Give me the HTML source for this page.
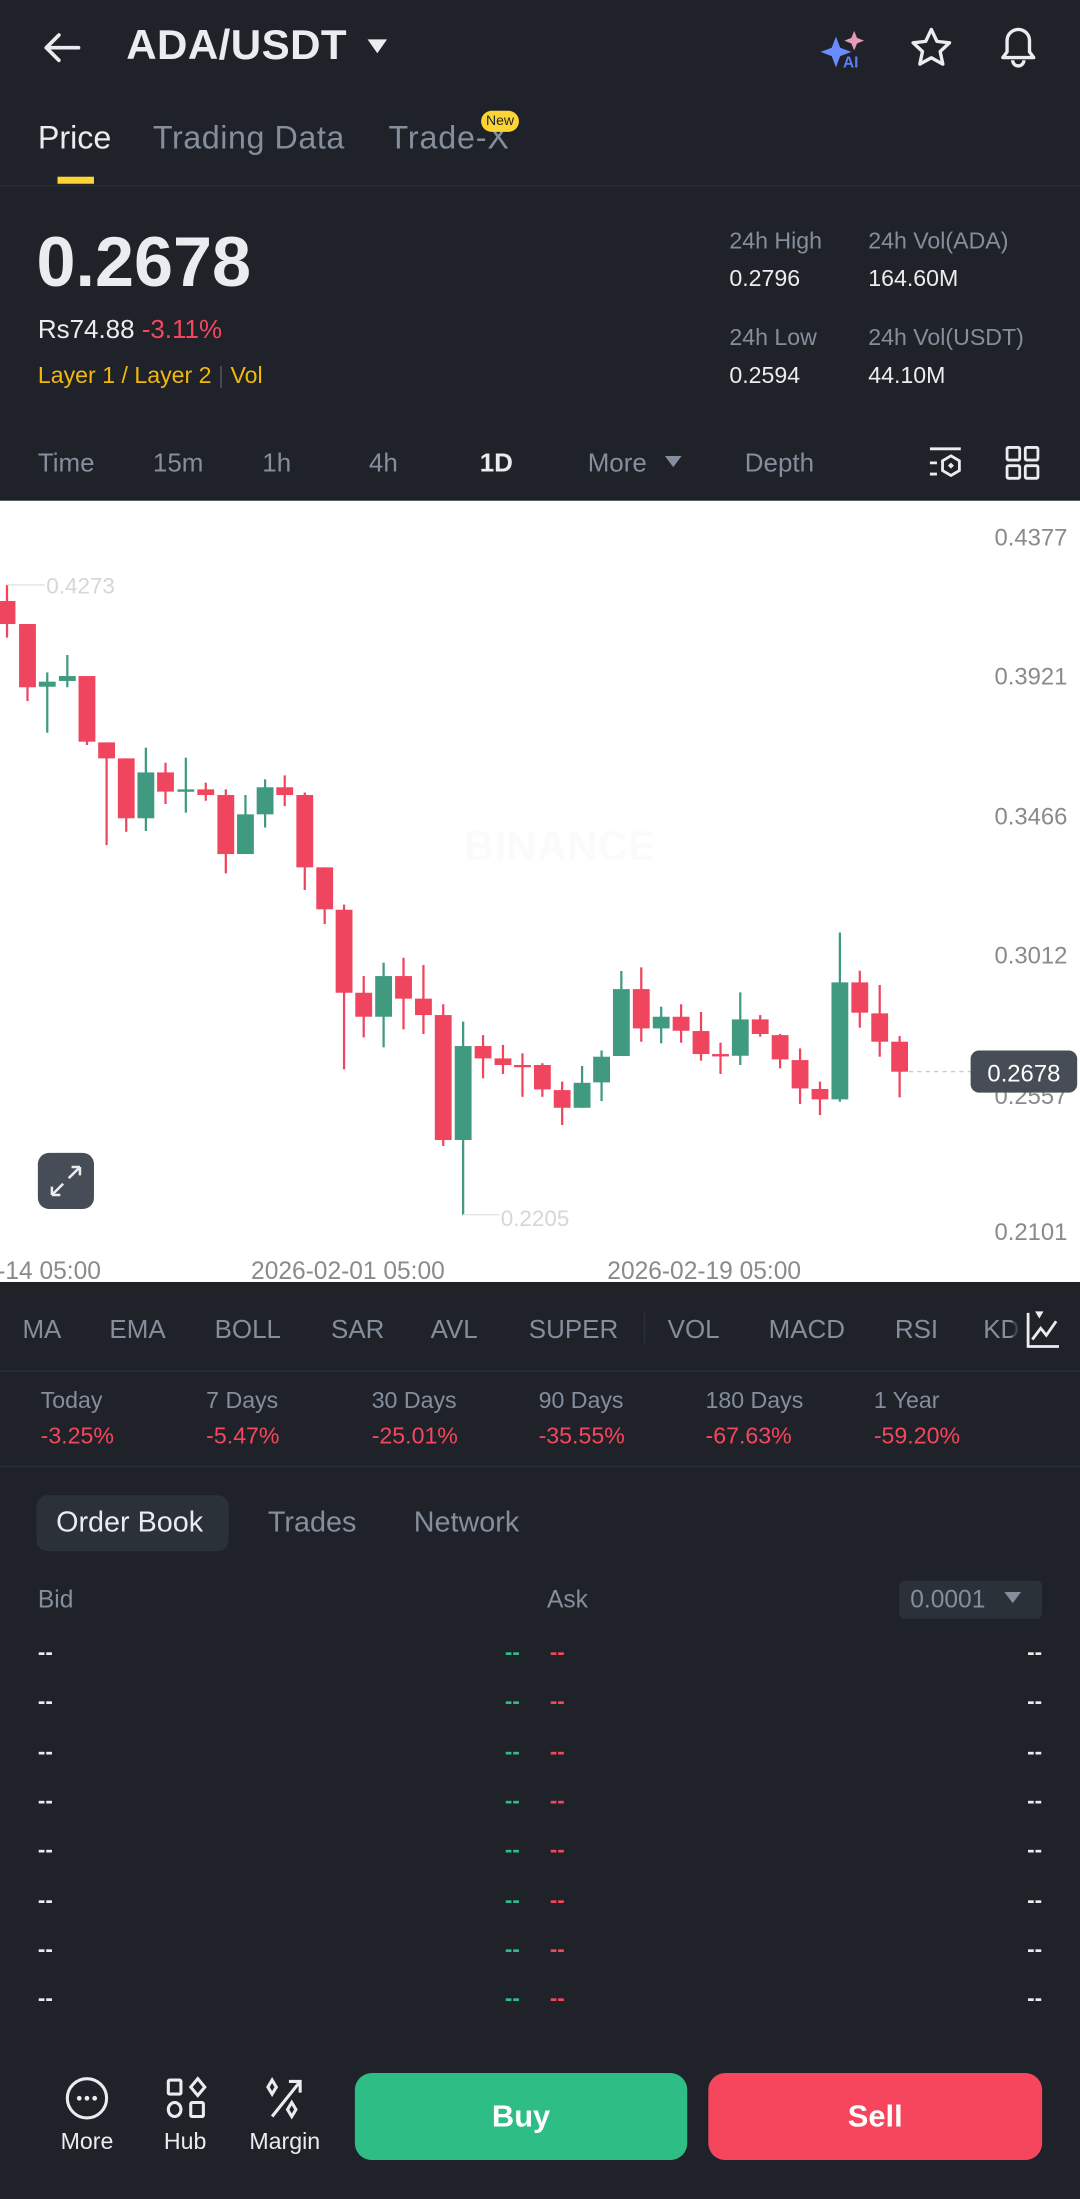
<!DOCTYPE html>
<html><head><meta charset="utf-8">
<style>
*{margin:0;padding:0;box-sizing:border-box}
html,body{width:1080px;height:2199px;overflow:hidden;background:#1f2329}
#w{position:absolute;left:0;top:0;width:770px;height:1568px;transform:scale(1.402597);transform-origin:0 0;background:#1f2329;font-family:"Liberation Sans",sans-serif;color:#eaecef}
.t{position:absolute;white-space:nowrap;line-height:1}
.g{color:#848e9c}
.r{color:#f6465d}
.y{color:#f0b90b}
.hl{position:absolute;left:0;width:770px;height:1px;background:#2b3139}
</style></head><body><div id="w">

<!-- header -->
<svg style="position:absolute;left:28px;top:20px" width="32" height="28" viewBox="0 0 32 28"><path d="M28 14H5M14 5L5 14l9 9" stroke="#eaecef" stroke-width="2.6" fill="none" stroke-linecap="round" stroke-linejoin="round"/></svg>
<div class="t" style="left:90px;top:18px;font-size:30px;font-weight:bold;letter-spacing:0.3px">ADA/USDT</div>
<svg style="position:absolute;left:262px;top:28px" width="14" height="10"><path d="M0 0h14L7 10z" fill="#eaecef"/></svg>
<svg style="position:absolute;left:584px;top:20px" width="36" height="30" viewBox="0 0 36 30"><path d="M12 6l3 8 8 3-8 3-3 8-3-8-8-3 8-3z" fill="#6a8cff"/><path d="M25 2l2 5 5 2-5 2-2 5-2-5-5-2 5-2z" fill="#e99ab7"/><text x="17" y="28" font-size="11" font-weight="bold" fill="#5a7dff" font-family="Liberation Sans">AI</text></svg>
<svg style="position:absolute;left:648px;top:18px" width="32" height="32" viewBox="0 0 32 32"><path d="M16 3l4 8.5 9 1-6.7 6.2 1.9 9L16 23.2 7.8 27.7l1.9-9L3 12.5l9-1z" fill="none" stroke="#eaecef" stroke-width="2.4" stroke-linejoin="round"/></svg>
<svg style="position:absolute;left:710px;top:16px" width="32" height="34" viewBox="0 0 32 34"><path d="M5 25h22l-3-4V13a8 8 0 0 0-16 0v8z" fill="none" stroke="#eaecef" stroke-width="2.4" stroke-linejoin="round"/><path d="M12 27a4 4 0 0 0 8 0" fill="none" stroke="#eaecef" stroke-width="2.4"/></svg>

<!-- tabs -->
<div class="t" style="left:27px;top:87px;font-size:23px">Price</div>
<div class="t g" style="left:109px;top:87px;font-size:23px;letter-spacing:0.4px">Trading Data</div>
<div class="t g" style="left:277px;top:87px;font-size:23px;letter-spacing:0.6px">Trade-X</div>
<div class="t" style="left:343px;top:79px;width:27px;height:15px;border-radius:8px;background:#fcd535;color:#1f2329;font-size:10px;text-align:center;line-height:15px">New</div>
<div style="position:absolute;left:41px;top:126px;width:26px;height:5px;background:#fcd535"></div>
<div class="hl" style="top:132px"></div>

<!-- price block -->
<div class="t" style="left:26px;top:162px;font-size:50px;font-weight:bold">0.2678</div>
<div class="t" style="left:27px;top:226px;font-size:18.5px">Rs74.88 <span class="r">-3.11%</span></div>
<div class="t y" style="left:27px;top:260px;font-size:16.5px">Layer 1 / Layer 2 <span style="color:#474d57">|</span> Vol</div>
<div class="t g" style="left:520px;top:164px;font-size:16.5px">24h High</div>
<div class="t" style="left:520px;top:191px;font-size:16.5px">0.2796</div>
<div class="t g" style="left:619px;top:164px;font-size:16.5px">24h Vol(ADA)</div>
<div class="t" style="left:619px;top:191px;font-size:16.5px">164.60M</div>
<div class="t g" style="left:520px;top:233px;font-size:16.5px">24h Low</div>
<div class="t" style="left:520px;top:260px;font-size:16.5px">0.2594</div>
<div class="t g" style="left:619px;top:233px;font-size:16.5px">24h Vol(USDT)</div>
<div class="t" style="left:619px;top:260px;font-size:16.5px">44.10M</div>

<!-- intervals -->
<div class="t g" style="left:27px;top:321px;font-size:18.5px">Time</div>
<div class="t g" style="left:109px;top:321px;font-size:18.5px">15m</div>
<div class="t g" style="left:187px;top:321px;font-size:18.5px">1h</div>
<div class="t g" style="left:263px;top:321px;font-size:18.5px">4h</div>
<div class="t" style="left:342px;top:321px;font-size:18.5px;font-weight:bold">1D</div>
<div class="t g" style="left:419px;top:321px;font-size:18.5px">More</div>
<svg style="position:absolute;left:474px;top:325px" width="12" height="9"><path d="M0 0h12L6 8z" fill="#848e9c"/></svg>
<div class="t g" style="left:531px;top:321px;font-size:18.5px">Depth</div>
<svg style="position:absolute;left:660px;top:316px" width="28" height="28" viewBox="0 0 28 28"><path d="M3 4h22M3 14h5M3 22h5" stroke="#eaecef" stroke-width="2"/><path d="M18 9l6 3.5v7L18 23l-6-3.5v-7z" fill="none" stroke="#eaecef" stroke-width="2"/><rect x="16.5" y="14.5" width="3" height="3" transform="rotate(45 18 16)" fill="#eaecef"/></svg>
<svg style="position:absolute;left:716px;top:317px" width="26" height="26" viewBox="0 0 26 26"><g fill="none" stroke="#eaecef" stroke-width="2"><rect x="2" y="2" width="9" height="9" rx="1"/><rect x="15" y="2" width="9" height="9" rx="1"/><rect x="2" y="15" width="9" height="9" rx="1"/><rect x="15" y="15" width="9" height="9" rx="1"/></g></svg>

<!-- chart -->
<div style="position:absolute;left:0;top:357px;width:770px;height:557px;background:#fff"></div>
<svg style="position:absolute;left:0;top:0" width="770" height="1568" id="ch">
<text x="331" y="613" font-size="30" font-weight="bold" fill="#fbfbfb" font-family="Liberation Sans">BINANCE</text>
<g id="cd"></g>
<line x1="5" y1="417" x2="32" y2="417" stroke="#e4e4e4"/>
<text x="33" y="423" font-size="16" fill="#d6d6d6" font-family="Liberation Sans">0.4273</text>
<line x1="330" y1="866" x2="356" y2="866" stroke="#e4e4e4"/>
<text x="357" y="874" font-size="16" fill="#d6d6d6" font-family="Liberation Sans">0.2205</text>
<line x1="648" y1="764" x2="692" y2="764" stroke="#ccc" stroke-dasharray="3,3"/>
<g font-size="17" fill="#8a8a8a" font-family="Liberation Sans" text-anchor="end">
<text x="761" y="389">0.4377</text><text x="761" y="488">0.3921</text><text x="761" y="588">0.3466</text><text x="761" y="687">0.3012</text><text x="761" y="787">0.2557</text><text x="761" y="884">0.2101</text>
</g>
<g font-size="17.5" fill="#8a8a8a" font-family="Liberation Sans">
<text x="-2" y="912">-14 05:00</text><text x="179" y="912">2026-02-01 05:00</text><text x="433" y="912">2026-02-19 05:00</text>
</g>
<rect x="692" y="749" width="76" height="30" rx="6" fill="#474d57"/>
<text x="730" y="771" font-size="17" fill="#fff" font-family="Liberation Sans" text-anchor="middle">0.2678</text>
<rect x="27" y="822" width="40" height="40" rx="8" fill="#474d57"/>
<path d="M37 852l8-8M37 852v-6M37 852h6M57 832l-8 8M57 832v6M57 832h-6" stroke="#eaecef" stroke-width="1.8" fill="none"/>
</svg>

<!-- indicators -->
<div class="t g" style="left:16px;top:939px;font-size:18.5px">MA</div>
<div class="t g" style="left:78px;top:939px;font-size:18.5px">EMA</div>
<div class="t g" style="left:153px;top:939px;font-size:18.5px">BOLL</div>
<div class="t g" style="left:236px;top:939px;font-size:18.5px">SAR</div>
<div class="t g" style="left:307px;top:939px;font-size:18.5px">AVL</div>
<div class="t g" style="left:377px;top:939px;font-size:18.5px">SUPER</div>
<div style="position:absolute;left:459px;top:936px;width:1px;height:22px;background:#2b3139"></div>
<div class="t g" style="left:476px;top:939px;font-size:18.5px">VOL</div>
<div class="t g" style="left:548px;top:939px;font-size:18.5px">MACD</div>
<div class="t g" style="left:638px;top:939px;font-size:18.5px">RSI</div>
<div class="t g" style="left:701px;top:939px;font-size:18.5px">KD</div>
<div style="position:absolute;left:722px;top:930px;width:48px;height:36px;background:linear-gradient(90deg,rgba(31,35,41,0.6),#1f2329 30%)"></div>
<svg style="position:absolute;left:730px;top:933px" width="28" height="30" viewBox="0 0 28 30"><path d="M3 3v24h22" stroke="#eaecef" stroke-width="2" fill="none"/><path d="M6 22l6-8 4 5 7-10" stroke="#eaecef" stroke-width="2" fill="none"/><path d="M8 2h6l-3 5z" fill="#eaecef"/></svg>
<div class="hl" style="top:977px"></div>

<!-- performance -->
<div class="t g" style="left:29px;top:991px;font-size:16.5px">Today</div><div class="t r" style="left:29px;top:1016px;font-size:16.5px">-3.25%</div>
<div class="t g" style="left:147px;top:991px;font-size:16.5px">7 Days</div><div class="t r" style="left:147px;top:1016px;font-size:16.5px">-5.47%</div>
<div class="t g" style="left:265px;top:991px;font-size:16.5px">30 Days</div><div class="t r" style="left:265px;top:1016px;font-size:16.5px">-25.01%</div>
<div class="t g" style="left:384px;top:991px;font-size:16.5px">90 Days</div><div class="t r" style="left:384px;top:1016px;font-size:16.5px">-35.55%</div>
<div class="t g" style="left:503px;top:991px;font-size:16.5px">180 Days</div><div class="t r" style="left:503px;top:1016px;font-size:16.5px">-67.63%</div>
<div class="t g" style="left:623px;top:991px;font-size:16.5px">1 Year</div><div class="t r" style="left:623px;top:1016px;font-size:16.5px">-59.20%</div>
<div class="hl" style="top:1045px"></div>

<!-- order book -->
<div style="position:absolute;left:26px;top:1066px;width:137px;height:40px;border-radius:8px;background:#2b3139"></div>
<div class="t" style="left:40px;top:1076px;font-size:20.5px">Order Book</div>
<div class="t g" style="left:191px;top:1076px;font-size:20.5px">Trades</div>
<div class="t g" style="left:295px;top:1076px;font-size:20.5px">Network</div>
<div class="t g" style="left:27px;top:1132px;font-size:17.5px">Bid</div>
<div class="t g" style="left:390px;top:1132px;font-size:17.5px">Ask</div>
<div style="position:absolute;left:641px;top:1127px;width:102px;height:27px;border-radius:4px;background:#2b3139"></div>
<div class="t g" style="left:649px;top:1132px;font-size:17.5px">0.0001</div>
<svg style="position:absolute;left:716px;top:1135px" width="12" height="9"><path d="M0 0h12L6 8z" fill="#848e9c"/></svg>
<div id="rows"></div>

<!-- bottom bar -->
<svg style="position:absolute;left:45px;top:1479px" width="34" height="34" viewBox="0 0 34 34"><circle cx="17" cy="17" r="14" fill="none" stroke="#eaecef" stroke-width="2.2"/><circle cx="11.5" cy="17" r="1.7" fill="#eaecef"/><circle cx="17" cy="17" r="1.7" fill="#eaecef"/><circle cx="22.5" cy="17" r="1.7" fill="#eaecef"/></svg>
<svg style="position:absolute;left:116px;top:1479px" width="34" height="34" viewBox="0 0 34 34"><g fill="none" stroke="#eaecef" stroke-width="2.2"><rect x="4" y="4" width="9" height="10" rx="1"/><path d="M25 3l5 6-5 6-5-6z"/><ellipse cx="8.5" cy="25" rx="4.5" ry="5"/><rect x="20" y="20" width="9" height="10" rx="1"/></g></svg>
<svg style="position:absolute;left:186px;top:1479px" width="34" height="34" viewBox="0 0 34 34"><g fill="none" stroke="#eaecef" stroke-width="2.2"><path d="M8 30L28 5M20 5h8v8"/><path d="M8 4l3 5-3 5-3-5z"/><path d="M22 20l3 5-3 5-3-5z"/></g></svg>
<div class="t" style="left:62px;top:1519px;font-size:16.5px;transform:translateX(-50%)">More</div>
<div class="t" style="left:132px;top:1519px;font-size:16.5px;transform:translateX(-50%)">Hub</div>
<div class="t" style="left:203px;top:1519px;font-size:16.5px;transform:translateX(-50%)">Margin</div>
<div style="position:absolute;left:253px;top:1478px;width:237px;height:62px;border-radius:12px;background:#2ebd85;color:#fff;font-size:22px;font-weight:bold;text-align:center;line-height:62px">Buy</div>
<div style="position:absolute;left:505px;top:1478px;width:238px;height:62px;border-radius:12px;background:#f6465d;color:#fff;font-size:22px;font-weight:bold;text-align:center;line-height:62px">Sell</div>

<script>
var C=[
[5,428.5,444.9,417,454.6,'r'],[19.6,444.9,490,444.9,499.8,'r'],[33.7,486,489.6,479.4,522.4,'g'],[48,482,485.5,467,490,'g'],
[62,482,528.8,482,531.2,'r'],[76,529.3,540.7,529.3,602.5,'r'],[90,540.7,583.4,540.7,593,'r'],[104,550.7,583.4,533,592.5,'g'],
[118,550.7,564.4,543.8,573.2,'r'],[132.5,562.8,564.5,540.2,579.4,'g'],[146.7,562.8,566.8,558,570.9,'r'],[161,566.8,608.9,562.8,622.7,'r'],
[175,580.6,608.9,566.8,608.9,'g'],[189,561.3,580.6,555.6,590,'g'],[203,561.3,566.8,552.8,574.7,'r'],[217.3,566.8,618.4,565,634.5,'r'],
[231.5,618.4,648.3,618.4,658.8,'r'],[245.3,648.6,707.8,645,762.4,'r'],[259.3,707.8,724.9,695.9,739.6,'r'],[273.5,695.9,724.9,686.4,746.7,'g'],
[287.7,695.9,712,682.8,733.9,'r'],[301.9,712,723.7,688,737.2,'r'],[316,723.7,812.8,716,817.1,'r'],[330.2,745.8,812.8,728.4,866.3,'g'],
[344.4,745.8,754.6,738,768.8,'r'],[358.6,754.6,759.3,745,765.7,'r'],[372.5,759.3,760.8,751,782,'r'],[386.7,759.3,776.7,758,782,'r'],
[400.8,777.2,789.8,771.2,802.1,'r'],[415,772,789.8,760,789.8,'g'],[428.9,753.4,771.7,749,785,'g'],[443,705.2,752.9,692.3,752.9,'g'],
[457.2,705.2,733.2,689.7,742.7,'r'],[471.4,724.9,733.2,717.7,743.9,'g'],[485.6,724.9,734.9,716,743.4,'r'],[499.8,735.1,751.5,721.5,756.2,'r'],
[513.7,751.5,753.2,743.4,765.7,'r'],[527.8,726.8,752.7,707.5,759.3,'g'],[542,726.8,737.2,723.7,739.1,'r'],[556.2,738,755.3,737.2,761.7,'r'],
[570.4,755.8,776,747.5,787.1,'r'],[584.6,776.4,783.8,771.2,795,'r'],[598.8,700.4,783.8,664.8,785.5,'g'],[613,700.4,722,692.1,732.7,'r'],
[627.2,722.5,742.7,702.3,753.4,'r'],[641.4,742.7,764.1,738.7,782.4,'r']];
var s='';C.forEach(function(c){var col=c[5]=='r'?'#f0455f':'#3f9a80';
s+='<line x1="'+c[0]+'" x2="'+c[0]+'" y1="'+c[3]+'" y2="'+c[4]+'" stroke="'+col+'" stroke-width="1.6"/>';
var h=Math.max(c[2]-c[1],1.6);s+='<rect x="'+(c[0]-6)+'" y="'+c[1]+'" width="12" height="'+h+'" fill="'+col+'"/>';});
document.getElementById('cd').innerHTML=s;
var r='';for(var i=0;i<8;i++){var y=1171+i*35.3;
r+='<div class="t" style="left:27px;top:'+y+'px;font-size:16px;color:#eaecef;font-weight:bold">--</div>';
r+='<div class="t" style="left:360px;top:'+y+'px;font-size:16px;color:#2ebd85;font-weight:bold">--</div>';
r+='<div class="t" style="left:392px;top:'+y+'px;font-size:16px;color:#f6465d;font-weight:bold">--</div>';
r+='<div class="t" style="right:27px;top:'+y+'px;font-size:16px;color:#eaecef;font-weight:bold">--</div>';}
document.getElementById('rows').innerHTML=r;
</script>
</div></body></html>
